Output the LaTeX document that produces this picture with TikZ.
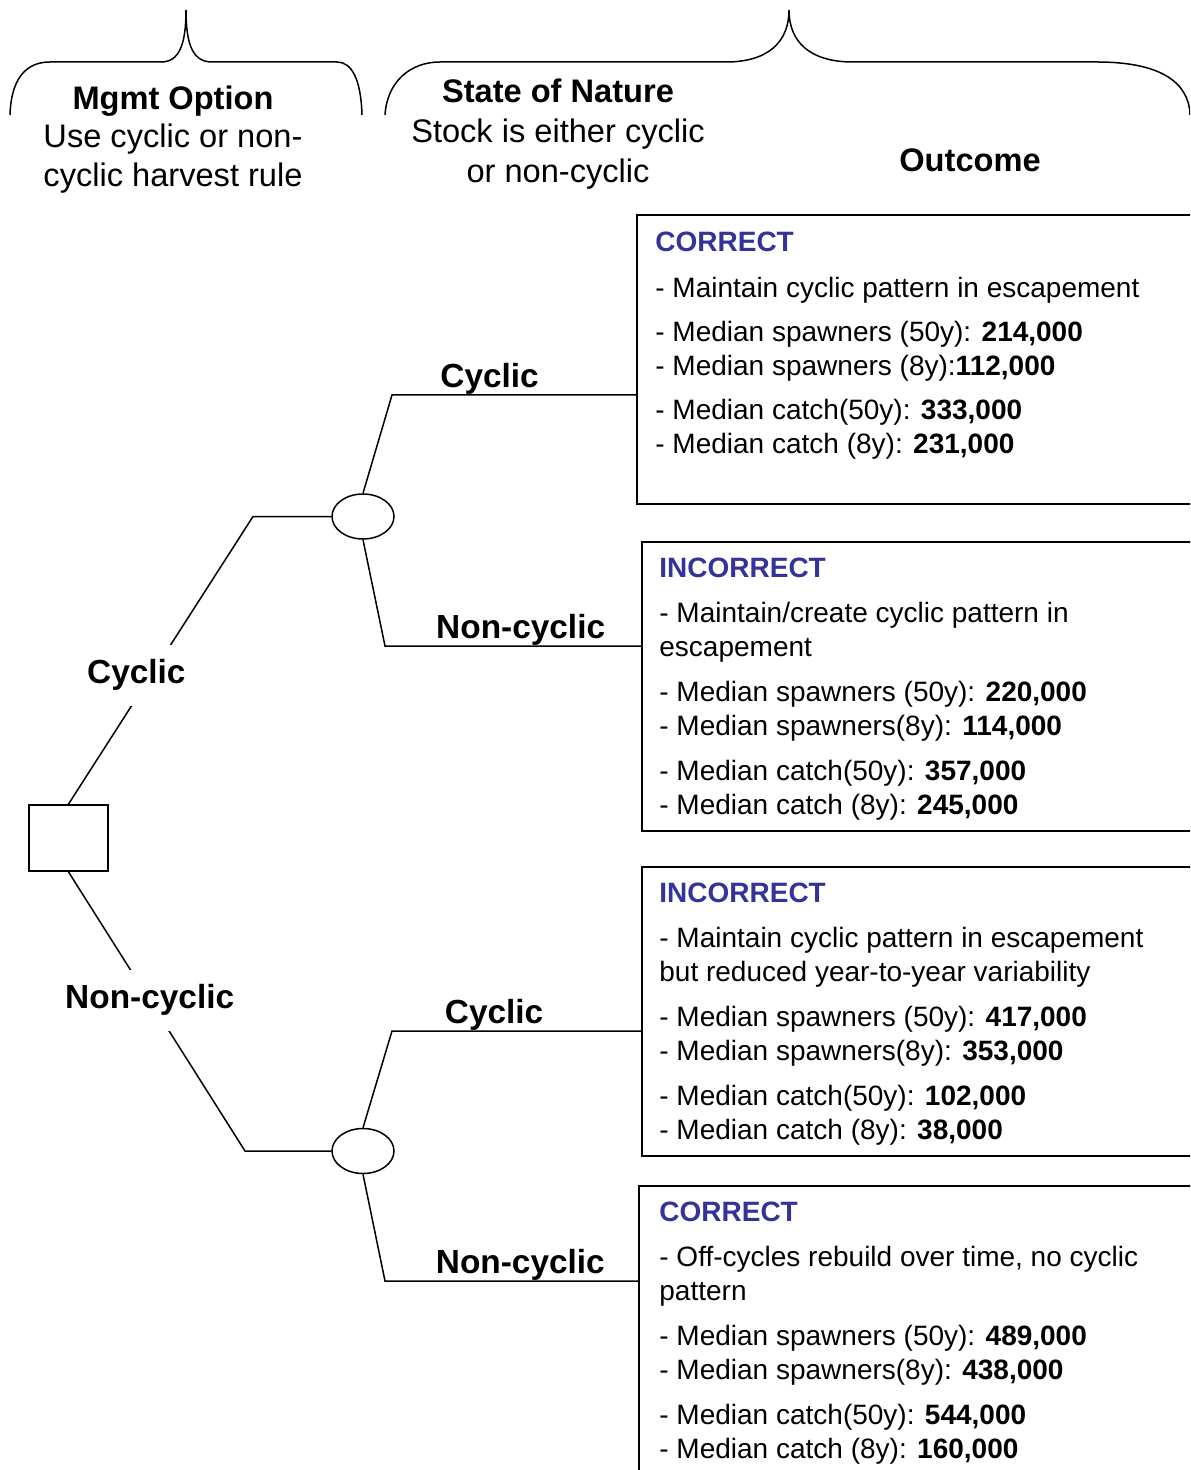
\documentclass[tikz,border=0pt]{standalone}
\usepackage{fontspec}
\setmainfont{Liberation Sans}
\usepackage{xcolor}
\usetikzlibrary{positioning,shapes.geometric}
\definecolor{titleblue}{HTML}{333399}

\begin{document}
\begin{tikzpicture}[
  x=0.5pt, y=-0.5pt,
  ln/.style={line width=0.75pt},
  lbl/.style={font=\fontsize{16.7}{19}\selectfont\bfseries},
  head/.style={align=center,inner sep=0pt},
  decision/.style={draw,line width=0.9pt,minimum width=39.5pt,minimum height=33pt,inner sep=0pt},
  chance/.style={draw,ellipse,line width=0.75pt,minimum width=31pt,minimum height=22.5pt,inner sep=0pt},
  outbox/.style={draw,line width=0.9pt,anchor=north west,minimum width=282pt,inner sep=0pt},
  outtxt/.style={anchor=north west,align=left,inner sep=0pt,font=\fontsize{14}{17}\selectfont},
  gap/.style={fill=white,inner xsep=2pt,inner ysep=7.5pt}
]
  \clip (0,0) rectangle (1190,1470);

  % braces over the columns
  \draw[ln] (10,115) .. controls (11,80) and (25,62) .. (50,62) -- (161,62)
    .. controls (179,62) and (186,45) .. (186,10)
    .. controls (186,45) and (193,62) .. (212,62) -- (337,62)
    .. controls (352,62) and (361,80) .. (362,115);
  \draw[ln] (385,115) .. controls (387,82) and (410,62) .. (440,62) -- (726,62)
    .. controls (768,62) and (789,42) .. (789,10)
    .. controls (789,42) and (810,62) .. (853,62) -- (1097,62)
    .. controls (1160,62) and (1189,82) .. (1190,115);

  % column headings
  \node[head,anchor=north,font=\fontsize{16.3}{19.25}\selectfont] (mgmt) at (173,85)
    {\textbf{Mgmt Option}\\Use cyclic or non-\\cyclic harvest rule};
  \node[head,anchor=north,font=\fontsize{16.3}{20}\selectfont] (nature) at (558,78)
    {\textbf{State of Nature}\\Stock is either cyclic\\or non-cyclic};
  \node[head,font=\fontsize{16.3}{19}\selectfont\bfseries] (outcome) at (970,160) {Outcome};

  % decision and chance nodes
  \node[decision] (sq) at (68.5,838) {};
  \node[chance] (e1) at (363,516.5) {};
  \node[chance] (e2) at (363,1151) {};

  % outcome boxes
  \node[outbox,minimum height=144.5pt] (box1) at (636,214) {};
  \node[outbox,minimum height=144.5pt] (box2) at (641,541) {};
  \node[outbox,minimum height=144.5pt] (box3) at (641,866) {};
  \node[outbox,minimum height=150pt] (box4) at (638,1185) {};

  \node[outtxt] (txt1) at ([xshift=9.5pt,yshift=-9pt]box1.north west)
    {{\color{titleblue}\bfseries CORRECT}\\[6pt]
     - Maintain cyclic pattern in escapement\\[5pt]
     - Median spawners (50y): \textbf{214,000}\\
     - Median spawners (8y):\textbf{112,000}\\[5pt]
     - Median catch(50y): \textbf{333,000}\\
     - Median catch (8y): \textbf{231,000}};
  \node[outtxt] (txt2) at ([xshift=9pt,yshift=-8.5pt]box2.north west)
    {{\color{titleblue}\bfseries INCORRECT}\\[5.5pt]
     - Maintain/create cyclic pattern in\\
     escapement\\[5.5pt]
     - Median spawners (50y): \textbf{220,000}\\
     - Median spawners(8y): \textbf{114,000}\\[5.5pt]
     - Median catch(50y): \textbf{357,000}\\
     - Median catch (8y): \textbf{245,000}};
  \node[outtxt] (txt3) at ([xshift=9pt,yshift=-8.5pt]box3.north west)
    {{\color{titleblue}\bfseries INCORRECT}\\[5.5pt]
     - Maintain cyclic pattern in escapement\\
     but reduced year-to-year variability\\[5.5pt]
     - Median spawners (50y): \textbf{417,000}\\
     - Median spawners(8y): \textbf{353,000}\\[5.5pt]
     - Median catch(50y): \textbf{102,000}\\
     - Median catch (8y): \textbf{38,000}};
  \node[outtxt] (txt4) at ([xshift=10.5pt,yshift=-8.5pt]box4.north west)
    {{\color{titleblue}\bfseries CORRECT}\\[5.5pt]
     - Off-cycles rebuild over time, no cyclic\\
     pattern\\[5.5pt]
     - Median spawners (50y): \textbf{489,000}\\
     - Median spawners(8y): \textbf{438,000}\\[5.5pt]
     - Median catch(50y): \textbf{544,000}\\
     - Median catch (8y): \textbf{160,000}};

  % branches
  \coordinate (k1) at (253,516.5);
  \coordinate (k2) at (245,1151);
  \coordinate (t1) at (392,395);
  \coordinate (b1) at (385,646);
  \coordinate (t2) at (392,1031);
  \coordinate (b2) at (385,1281);

  \draw[ln] (sq.north) -- node[lbl,gap,pos=0.448,xshift=-7.4pt]{Cyclic} (k1) -- (e1.west);
  \draw[ln] (sq.south) -- node[lbl,gap,pos=0.46]{Non-cyclic} (k2) -- (e2.west);

  \draw[ln] (e1.north) -- (t1) -- node[lbl,above,inner sep=0pt,pos=0.4]{Cyclic} (t1 -| box1.west);
  \draw[ln] (e1.south) -- (b1) -- node[lbl,above,inner sep=0pt,pos=0.53]{Non-cyclic} (b1 -| box2.west);
  \draw[ln] (e2.north) -- (t2) -- node[lbl,above,inner sep=0pt,pos=0.41]{Cyclic} (t2 -| box3.west);
  \draw[ln] (e2.south) -- (b2) -- node[lbl,above,inner sep=0pt,pos=0.535]{Non-cyclic} (b2 -| box4.west);
\end{tikzpicture}
\end{document}
